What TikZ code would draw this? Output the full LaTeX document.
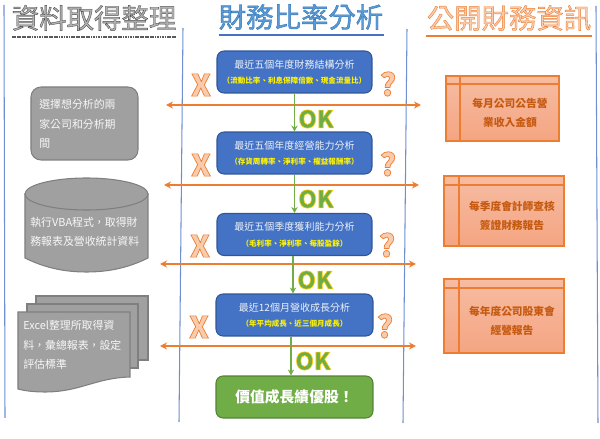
\documentclass[tikz,border=0pt]{standalone}
\usepackage{fontspec}
\setmainfont{Noto Sans CJK TC}
\usetikzlibrary{arrows.meta}
\definecolor{lineblue}{HTML}{6F8FD0}
\definecolor{boxblue}{HTML}{4472C4}
\definecolor{boxedge}{HTML}{2F5597}
\definecolor{hd}{HTML}{ED7D31}
\definecolor{peach}{HTML}{F8CBAD}
\definecolor{okgreen}{HTML}{70AD47}
\definecolor{okedge}{HTML}{548235}
\definecolor{graybox}{HTML}{A0A0A0}
\definecolor{grayedge}{HTML}{7F7F7F}
\definecolor{storetext}{HTML}{C55A11}
\definecolor{titleblue}{HTML}{5B9BD5}
\definecolor{storetop}{HTML}{F7BCA2}
\definecolor{storebot}{HTML}{F4A582}
\newcommand{\outl}[3]{\special{pdf:code q #1 RG 2 Tr #2 w}#3\special{pdf:code Q}}
\tikzset{
  divider/.style={lineblue,line width=0.6pt},
  titletext/.style={inner sep=0pt,font=\fontsize{15.6}{18}\selectfont},
  stepbox/.style={draw=boxedge,fill=boxblue,rounded corners=0.14cm,line width=0.6pt,minimum height=0.84cm,inner sep=0pt,align=center,text=white!90!boxblue,font=\fontsize{5.7}{8.8}\selectfont},
  resultbox/.style={draw=okedge,fill=okgreen,rounded corners=0.14cm,line width=0.6pt,minimum width=3.14cm,minimum height=0.84cm,inner sep=0pt,text=white,font=\bfseries\fontsize{8.4}{10}\selectfont},
  flow/.style={okgreen,line width=1pt,-{Stealth[length=3.4pt,width=3.6pt]}},
  cross/.style={hd,line width=0.9pt,{Stealth[length=4pt,width=4pt]}-{Stealth[length=4pt,width=4pt]}},
  oktext/.style={inner sep=0pt,text=okgreen,font=\bfseries\fontsize{13.5}{14}\selectfont},
  xmark/.style={inner sep=0pt,text=peach,font=\bfseries\fontsize{17}{18}\selectfont},
  qmark/.style={inner sep=0pt,text=peach,font=\bfseries\fontsize{17.5}{18}\selectfont},
  grayshape/.style={draw=grayedge,fill=graybox,line width=0.6pt},
  graytext/.style={inner sep=0pt,align=left,text=white!92!graybox,font=\fontsize{6.2}{11}\selectfont},
  store/.style={draw=hd,top color=storetop,bottom color=storebot,line width=0.7pt,inner sep=0pt},
  storeline/.style={hd,line width=0.7pt},
  storelabel/.style={inner sep=0pt,align=center,text=storetext,font=\bfseries\fontsize{6.1}{11.2}\selectfont}
}
\newcommand{\subline}[1]{{\bfseries\fontsize{4.3}{8.8}\selectfont\textcolor{yellow}{#1}}}
\newcommand{\okmark}{\outl{1 0.8 0}{0.35}{OK}}
\newcommand{\xm}{\outl{0.93 0.49 0.19}{0.4}{X}}
\newcommand{\qm}{\outl{0.93 0.49 0.19}{0.4}{?}}
\begin{document}
\begin{tikzpicture}[x=0.02cm,y=-0.02cm]
\useasboundingbox (0,0) rectangle (600,439);
% dividers
\draw[divider] (4,5) -- (5,418);
\draw[divider] (183,28) -- (179,422);
\draw[divider] (407,29) -- (403,423);
\draw[divider] (596,6) -- (598,423);
% titles
\node[titletext,text=black!30] (t1) at (94,18) {\outl{0.3 0.3 0.3}{0.22}{資料取得整理}};
\node[titletext,text=titleblue] (t2) at (301,17) {\outl{0.18 0.45 0.71}{0.22}{財務比率分析}};
\node[titletext,text=peach] (t3) at (509,18) {\outl{0.93 0.49 0.19}{0.22}{公開財務資訊}};
\draw[black!65,dash pattern=on 1pt off 0.4pt,line width=0.7pt] (12,37) -- (176,37);
\draw[boxblue,line width=0.7pt] (219,35) -- (384,35);
\draw[hd,line width=1pt] (426,36) -- (592,36);
% cross arrows
\coordinate (a1l) at (166,105); \coordinate (a1r) at (421,105);
\coordinate (a2l) at (164,185); \coordinate (a2r) at (419,185);
\coordinate (a3l) at (160,264); \coordinate (a3r) at (416,264);
\coordinate (a4l) at (160,346); \coordinate (a4r) at (416,346);
\draw[cross] (a1l) -- (a1r);
\draw[cross] (a2l) -- (a2r);
\draw[cross] (a3l) -- (a3r);
\draw[cross] (a4l) -- (a4r);
% step boxes
\node[stepbox,minimum width=3.1cm] (s1) at (294.5,72) {最近五個年度財務結構分析\\\subline{（流動比率、利息保障倍數、現金流量比）}};
\node[stepbox,minimum width=3.1cm] (s2) at (294.5,153) {最近五個年度經營能力分析\\\subline{（存貨周轉率、淨利率、權益報酬率）}};
\node[stepbox,minimum width=3.1cm] (s3) at (294.5,234.5) {最近五個季度獲利能力分析\\\subline{（毛利率、淨利率、每股盈餘）}};
\node[stepbox,minimum width=3.14cm] (s4) at (294.5,315) {最近12個月營收成長分析\\\subline{（年平均成長、近三個月成長）}};
\node[resultbox] (s5) at (294.5,397) {價值成長績優股！};
\draw[flow] (s1) -- (s2);
\draw[flow] (s2) -- (s3);
\draw[flow] ([xshift=-0.03cm]s3.south) -- ([xshift=-0.03cm]s4.north);
\draw[flow] ([xshift=-0.07cm]s4.south) -- ([xshift=-0.07cm]s5.north);
% marks
\node[oktext] (ok1) at (316,119) {\okmark};
\node[oktext] (ok2) at (316,199) {\okmark};
\node[oktext] (ok3) at (315,280) {\okmark};
\node[oktext] (ok4) at (313,361) {\okmark};
\node[xmark] (x1) at (201,85) {\xm};
\node[xmark] (x2) at (201,165) {\xm};
\node[xmark] (x3) at (200,246) {\xm};
\node[xmark] (x4) at (199,327) {\xm};
\node[qmark] (q1) at (388,84) {\qm};
\node[qmark] (q2) at (388,164) {\qm};
\node[qmark] (q3) at (387,245) {\qm};
\node[qmark] (q4) at (385,326) {\qm};
% left column
\draw[grayshape,rounded corners=0.2cm] (31,87) rectangle (138,160);
\node[graytext,anchor=west] (l1) at (39,124) {選擇想分析的兩\\家公司和分析期\\間};
\draw[grayshape] (25,194) -- (25,258) .. controls (45,268) and (65,272) .. (86.5,272) .. controls (108,272) and (128,268) .. (148,258) -- (148,194) -- cycle;
\draw[grayshape] (86.5,194) ellipse[x radius=61.5,y radius=16];
\node[graytext,anchor=west] (l2) at (30,232) {執行VBA程式，取得財\\務報表及營收統計資料};
\draw[grayshape] (36,296) rectangle (148,360);
\draw[grayshape] (27,304) rectangle (138,368);
\draw[grayshape] (18,312) -- (130,312) -- (130,377) .. controls (95,378) and (80,392) .. (45,392) .. controls (35,392) and (25,391) .. (18,389) -- cycle;
\node[graytext,anchor=west] (l3) at (23,345) {Excel整理所取得資\\料，彙總報表，設定\\評估標準};
% right column
\node[store,minimum width=2.26cm,minimum height=1.3cm] (r1) at (502.5,108.5) {};
\draw[storeline] (460,76) -- (460,141);
\draw[storeline] (446,84) -- (559,84);
\node[storelabel] (rt1) at (510,113) {每月公司公告營\\業收入金額};
\node[store,minimum width=2.4cm,minimum height=1.4cm] (r2) at (504,211) {};
\draw[storeline] (459,176) -- (459,246);
\draw[storeline] (444,185) -- (564,185);
\node[storelabel] (rt2) at (512,216) {每季度會計師查核\\簽證財務報告};
\node[store,minimum width=2.4cm,minimum height=1.48cm] (r3) at (504,316) {};
\draw[storeline] (459,279) -- (459,353);
\draw[storeline] (444,288) -- (564,288);
\node[storelabel] (rt3) at (512,321) {每年度公司股東會\\經營報告};
\end{tikzpicture}
\end{document}
